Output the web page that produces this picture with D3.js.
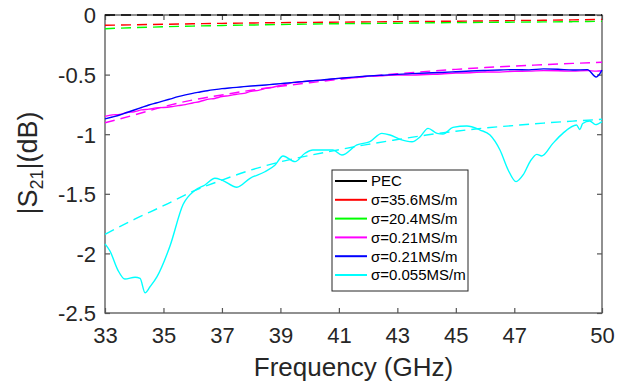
<!DOCTYPE html>
<html>
<head>
<meta charset="utf-8">
<script src="https://cdn.jsdelivr.net/npm/d3@7/dist/d3.min.js"></script>
<style>
body { margin: 0; background: #fff; }
svg { display: block; font-family: Arial, "Liberation Sans", Helvetica, sans-serif; }
</style>
</head>
<body>
<svg id="chart" width="627" height="382"></svg>
<script>
// ---- data ----
var xTicks = [33, 35, 37, 39, 41, 43, 45, 47, 50];
var yTicks = [0, -0.5, -1, -1.5, -2, -2.5];

// simulated curves (dashed)
var simFreq = [33, 34, 35, 36, 37, 38, 39, 40, 41, 42, 43, 44, 45, 46, 47, 48, 49, 50];
var pecSim = [0, 0, 0, 0, 0, 0, 0, 0, 0, 0, 0, 0, 0, 0, 0, 0, 0, 0];
var cu356Sim = [-0.086, -0.082, -0.078, -0.074, -0.070, -0.067, -0.064, -0.062, -0.060, -0.058, -0.056, -0.054, -0.052, -0.050, -0.047, -0.044, -0.041, -0.037];
var s204Sim = [-0.115, -0.106, -0.099, -0.093, -0.088, -0.084, -0.080, -0.076, -0.073, -0.071, -0.069, -0.066, -0.064, -0.062, -0.060, -0.058, -0.056, -0.053];
var s021Sim = [-0.904, -0.839, -0.769, -0.713, -0.671, -0.631, -0.598, -0.568, -0.540, -0.515, -0.493, -0.473, -0.456, -0.441, -0.428, -0.417, -0.406, -0.396];
var s0055Sim = [-1.84, -1.715, -1.60, -1.48, -1.385, -1.30, -1.232, -1.178, -1.13, -1.085, -1.045, -1.007, -0.975, -0.948, -0.927, -0.907, -0.89, -0.875];

// measured curves (solid)
var measFreq = [33, 33.25, 33.5, 33.75, 34, 34.25, 34.5, 34.75, 35, 35.25, 35.5, 35.75, 36, 36.25, 36.5, 36.75, 37, 37.25, 37.5, 37.75, 38, 38.25, 38.5, 38.75, 39, 39.25, 39.5, 39.75, 40, 40.5, 41, 41.5, 42, 42.5, 43, 43.5, 44, 44.5, 45, 45.5, 46, 46.5, 47, 47.5, 48, 48.5, 49, 49.5, 49.8, 50];
var s021aMeas = [-0.850, -0.838, -0.834, -0.818, -0.812, -0.796, -0.790, -0.779, -0.776, -0.770, -0.760, -0.752, -0.738, -0.726, -0.708, -0.700, -0.684, -0.676, -0.665, -0.657, -0.640, -0.632, -0.616, -0.606, -0.590, -0.578, -0.563, -0.560, -0.552, -0.546, -0.532, -0.526, -0.513, -0.510, -0.503, -0.504, -0.499, -0.495, -0.487, -0.485, -0.478, -0.479, -0.472, -0.471, -0.467, -0.468, -0.471, -0.466, -0.471, -0.468];
var s021bMeas = [-0.872, -0.856, -0.839, -0.818, -0.797, -0.776, -0.755, -0.738, -0.721, -0.703, -0.685, -0.670, -0.657, -0.646, -0.635, -0.626, -0.618, -0.612, -0.607, -0.601, -0.596, -0.592, -0.587, -0.581, -0.576, -0.570, -0.565, -0.559, -0.554, -0.543, -0.532, -0.521, -0.512, -0.505, -0.498, -0.492, -0.487, -0.482, -0.476, -0.470, -0.465, -0.461, -0.458, -0.460, -0.452, -0.455, -0.462, -0.458, -0.520, -0.462];

var cyanFreq = [33.0, 33.17, 33.44, 33.68, 34.03, 34.2, 34.37, 34.54, 34.78, 35.22, 35.67, 36.08, 36.42, 36.76, 37.0, 37.51, 37.96, 38.47, 38.81, 39.09, 39.5, 39.84, 40.11, 40.8, 41.1, 41.62, 42.06, 42.47, 42.75, 43.09, 43.5, 43.78, 44.05, 44.36, 44.56, 44.9, 45.38, 45.83, 46.17, 46.51, 46.79, 47.06, 47.3, 47.54, 47.77, 47.94, 48.32, 48.66, 49.13, 49.24, 49.34, 49.58, 49.78, 50];
var s0055Meas = [-1.92, -1.98, -2.14, -2.215, -2.20, -2.21, -2.33, -2.28, -2.195, -1.94, -1.59, -1.47, -1.426, -1.37, -1.385, -1.445, -1.37, -1.315, -1.26, -1.183, -1.23, -1.16, -1.133, -1.133, -1.175, -1.09, -1.063, -0.993, -1.007, -1.043, -1.063, -1.021, -0.951, -0.993, -0.998, -0.943, -0.931, -0.965, -1.007, -1.133, -1.30, -1.398, -1.342, -1.23, -1.169, -1.183, -1.077, -0.993, -0.923, -0.96, -0.91, -0.889, -0.92, -0.895];

var legendNames = ["PEC", "σ=35.6MS/m", "σ=20.4MS/m", "σ=0.21MS/m", "σ=0.21MS/m", "σ=0.055MS/m"];
var legendColors = ["#000000", "#ff0000", "#00ff00", "#ff00ff", "#0000ff", "#00ffff"];

// ---- layout ----
var W = 627, H = 382;
var margin = {left: 105, right: 25, top: 15, bottom: 69};
var pw = W - margin.left - margin.right;
var ph = H - margin.top - margin.bottom;

var svg = d3.select("#chart");
var g = svg.append("g").attr("transform", "translate(" + margin.left + "," + margin.top + ")");

var x = d3.scaleLinear().domain([33, 50]).range([0, pw]);
var y = d3.scaleLinear().domain([-2.5, 0]).range([ph, 0]);

var axisColor = "#555";
var textColor = "#262626";

// box
g.append("rect")
    .attr("x", 0).attr("y", 0)
    .attr("width", pw).attr("height", ph)
    .attr("fill", "none")
    .attr("stroke", axisColor)
    .attr("stroke-width", 1.3);

// axes with inward ticks, mirrored on top and right
var tickLen = 5;
var xAxis = d3.axisBottom(x).tickValues(xTicks).tickSizeInner(-tickLen).tickSizeOuter(0).tickPadding(14).tickFormat(d3.format("d"));
var yAxis = d3.axisLeft(y).tickValues(yTicks).tickSizeInner(-tickLen).tickSizeOuter(0).tickPadding(9).tickFormat(function(d) { return d === 0 ? "0" : String(d); });

var gx = g.append("g").attr("transform", "translate(0," + ph + ")").call(xAxis);
var gy = g.append("g").call(yAxis);
var gxTop = g.append("g").call(d3.axisTop(x).tickValues(xTicks).tickSizeInner(-tickLen).tickSizeOuter(0).tickFormat(""));
var gyRight = g.append("g").attr("transform", "translate(" + pw + ",0)")
    .call(d3.axisRight(y).tickValues(yTicks).tickSizeInner(-tickLen).tickSizeOuter(0).tickFormat(""));

[gx, gy, gxTop, gyRight].forEach(function(a) {
    a.select(".domain").remove();
    a.selectAll(".tick line").attr("stroke", axisColor).attr("stroke-width", 1.2);
    a.selectAll(".tick text").attr("fill", textColor).attr("font-size", 22)
        .attr("font-family", "Arial, 'Liberation Sans', sans-serif");
});
gy.selectAll(".tick text").attr("dy", "0.36em");

// axis titles
svg.append("text")
    .attr("x", margin.left + pw / 2)
    .attr("y", 376)
    .attr("text-anchor", "middle")
    .attr("fill", textColor)
    .attr("font-size", 26)
    .text("Frequency (GHz)");

var yl = svg.append("text")
    .attr("transform", "translate(37," + (margin.top + ph / 2 - 1) + ") rotate(-90)")
    .attr("text-anchor", "middle")
    .attr("fill", textColor)
    .attr("font-size", 27);
yl.append("tspan").text("|S");
yl.append("tspan").attr("font-size", 18).attr("dy", 6).text("21");
yl.append("tspan").attr("dy", -6).text("|(dB)");

// ---- lines ----
var line = d3.line()
    .x(function(d) { return x(d[0]); })
    .y(function(d) { return y(d[1]); })
    .curve(d3.curveMonotoneX);

function drawSeries(freq, vals, color, dashed) {
    g.append("path")
        .datum(d3.zip(freq, vals))
        .attr("d", line)
        .attr("fill", "none")
        .attr("stroke", color)
        .attr("stroke-width", 1.4)
        .attr("stroke-dasharray", dashed ? "10,6" : null);
}

drawSeries(simFreq, pecSim, legendColors[0], true);
drawSeries(simFreq, cu356Sim, legendColors[1], true);
drawSeries(simFreq, s204Sim, legendColors[2], true);
drawSeries(measFreq, s021aMeas, legendColors[3], false);
drawSeries(simFreq, s021Sim, legendColors[3], true);
drawSeries(measFreq, s021bMeas, legendColors[4], false);
drawSeries(cyanFreq, s0055Meas, legendColors[5], false);
drawSeries(simFreq, s0055Sim, legendColors[5], true);

// ---- legend ----
var lg = svg.append("g").attr("transform", "translate(332,170)");
lg.append("rect")
    .attr("width", 136).attr("height", 121)
    .attr("fill", "#fff")
    .attr("stroke", "#262626")
    .attr("stroke-width", 1);

var rows = lg.selectAll("g.row")
    .data(legendNames)
    .enter().append("g")
    .attr("class", "row")
    .attr("transform", function(d, i) { return "translate(0," + (11 + i * 18.8) + ")"; });
rows.append("line")
    .attr("x1", 3).attr("x2", 35)
    .attr("stroke", function(d, i) { return legendColors[i]; })
    .attr("stroke-width", 2);
rows.append("text")
    .attr("x", 39)
    .attr("dy", "0.36em")
    .attr("font-size", 15)
    .attr("fill", "#000")
    .text(function(d) { return d; });
</script>
</body>
</html>
